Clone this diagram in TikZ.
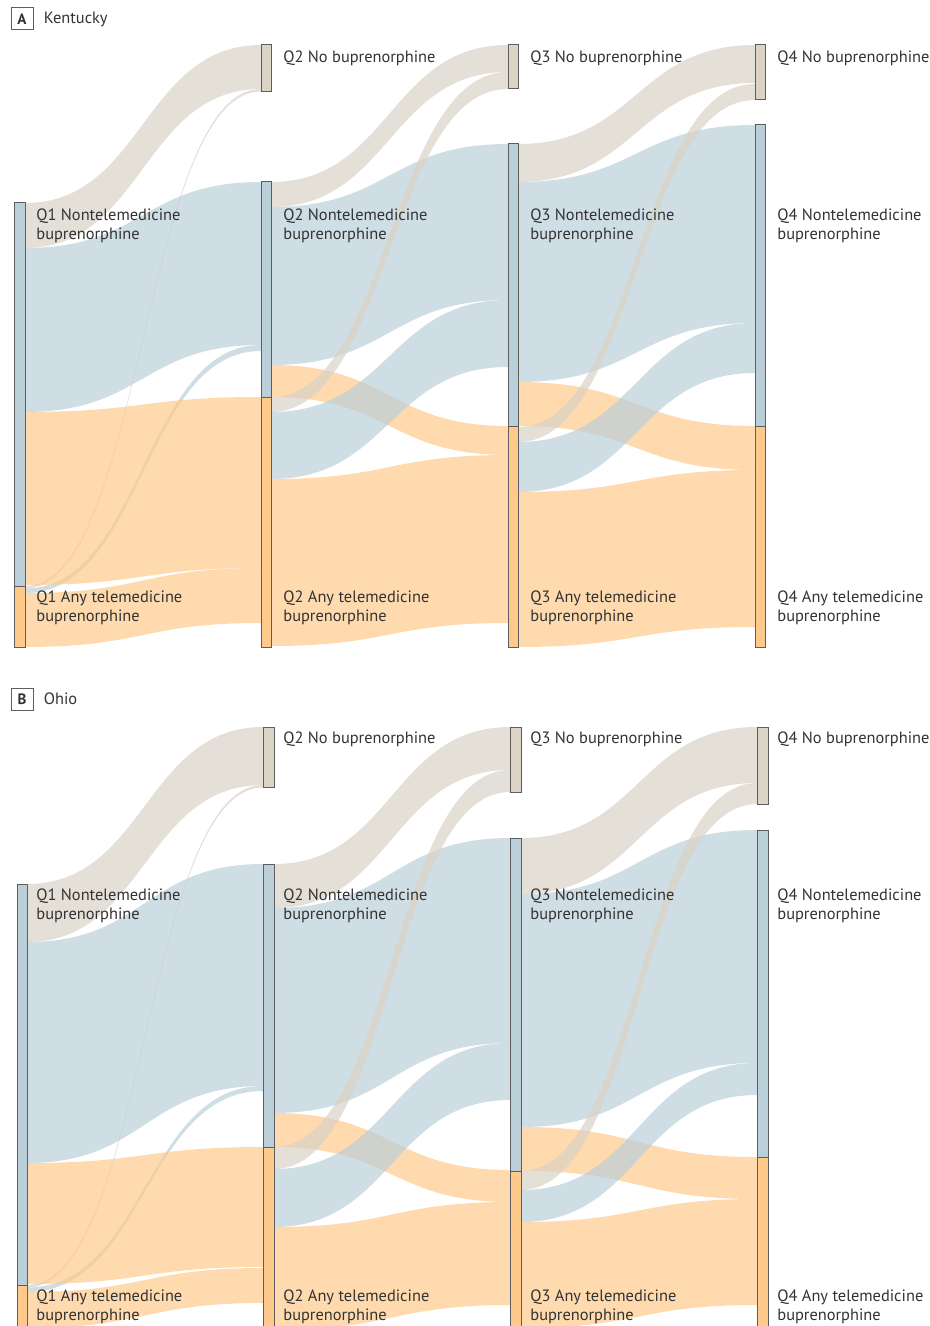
\documentclass[tikz,border=0pt]{standalone}
\usepackage{fontspec}
\setmainfont{PT Sans}
\usetikzlibrary{fit,positioning}

\definecolor{nobup}{HTML}{DAD3C6}
\definecolor{nontele}{HTML}{BBCFD9}
\definecolor{anytele}{HTML}{FDCA8B}
\definecolor{txtgray}{HTML}{333333}
\definecolor{edgegray}{HTML}{5E5E5E}

% ribbon between two bars: style, x1, top1, bottom1, x2, top2, bottom2
\newcommand{\ribbon}[7]{%
  \pgfmathsetmacro{\xmid}{(#2+#5)/2}
  \fill[#1] (#2,#3) .. controls (\xmid,#3) and (\xmid,#6) .. (#5,#6)
    -- (#5,#7) .. controls (\xmid,#7) and (\xmid,#4) .. (#2,#4) -- cycle;
}

\begin{document}
\begin{tikzpicture}[x=0.5pt, y=-0.5pt,
  qbar/.style={draw=edgegray, line width=0.5pt, inner sep=0pt, outer sep=0pt},
  flowno/.style={fill=nobup, fill opacity=0.7},
  flownt/.style={fill=nontele, fill opacity=0.7},
  flowany/.style={fill=anytele, fill opacity=0.7},
  lbl/.style={anchor=north west, align=left, inner sep=0pt, text=txtgray,
    font=\fontsize{8.2}{9.5}\selectfont},
  panel/.style={draw=edgegray, line width=0.5pt, minimum size=11pt, inner sep=0pt,
    text=txtgray, font=\fontsize{7.5}{8}\selectfont\bfseries}]
\useasboundingbox (0,0) rectangle (930,1326);

% panel A, Kentucky
\node[panel] (pana) at (22,19) {A};
\node[lbl, anchor=west, right=5pt of pana] (kentucky) {Kentucky};

\ribbon{flowno}{25}{203}{248}{261}{45}{89}
\ribbon{flowno}{25}{586}{588.5}{261}{89}{91.5}
\ribbon{flownt}{25}{588.5}{593}{261}{345}{351}
\ribbon{flownt}{25}{248}{412}{261}{182}{345}
\ribbon{flowany}{25}{412}{585}{261}{397}{568}
\ribbon{flowany}{25}{593}{647}{261}{568}{623}

\ribbon{flowno}{271}{182}{207}{508}{45}{72}
\ribbon{flownt}{271}{207}{365}{508}{144}{300}
\ribbon{flowany}{271}{365}{397}{508}{426}{455}
\ribbon{flowno}{271}{397}{412}{508}{72}{89}
\ribbon{flownt}{271}{412}{479}{508}{300}{367}
\ribbon{flowany}{271}{479}{646}{508}{455}{623}

\ribbon{flowno}{518}{144}{182}{755}{45}{83}
\ribbon{flownt}{518}{182}{382}{755}{125}{323}
\ribbon{flowany}{518}{382}{426}{755}{426}{470}
\ribbon{flowno}{518}{427}{442}{755}{84}{100}
\ribbon{flownt}{518}{442}{492}{755}{323}{373}
\ribbon{flowany}{518}{492}{647}{755}{470}{627}

\foreach \n/\c/\xa/\ya/\xb/\yb in {
    a1nt/nontele/14/203/25/586, a1any/anytele/14/586/25/647,
    a2no/nobup/261/45/271/92, a2nt/nontele/261/182/271/397, a2any/anytele/261/397/271/647,
    a3no/nobup/508/45/518/89, a3nt/nontele/508/144/518/426, a3any/anytele/508/426/518/647,
    a4no/nobup/755/45/765/100, a4nt/nontele/755/125/765/426, a4any/anytele/755/426/765/647}
  \node[qbar, fill=\c, fit={(\xa,\ya) (\xb,\yb)}] (\n) {};

\foreach \q/\x in {2/283,3/530,4/777}
  \node[lbl] (a\q nolbl) at (\x,50.5) {Q\q{} No buprenorphine};
\foreach \q/\x in {1/36,2/283,3/530,4/777}{
  \node[lbl] (a\q ntlbl) at (\x,208.5) {Q\q{} Nontelemedicine\\buprenorphine};
  \node[lbl] (a\q anylbl) at (\x,590.5) {Q\q{} Any telemedicine\\buprenorphine};
}

% panel B, Ohio
\node[panel] (panb) at (22,699) {B};
\node[lbl, anchor=west, right=5pt of panb] (ohio) {Ohio};

\ribbon{flowno}{27}{884}{942}{263}{727}{785}
\ribbon{flowno}{27}{1285}{1287.5}{263}{785}{787.5}
\ribbon{flownt}{27}{1287.5}{1292}{263}{1086}{1091}
\ribbon{flownt}{27}{942}{1163}{263}{864}{1086}
\ribbon{flowany}{27}{1163}{1284}{263}{1147}{1267}
\ribbon{flowany}{27}{1292}{1328}{263}{1268}{1303}

\ribbon{flowno}{274}{864}{908}{510}{727}{770}
\ribbon{flownt}{274}{908}{1113}{510}{838}{1043}
\ribbon{flowany}{274}{1113}{1147}{510}{1170}{1202}
\ribbon{flowno}{274}{1147}{1169}{510}{770}{792}
\ribbon{flownt}{274}{1169}{1227}{510}{1043}{1100}
\ribbon{flowany}{274}{1227}{1330}{510}{1202}{1305}

\ribbon{flowno}{521}{838}{894}{757}{727}{783}
\ribbon{flownt}{521}{894}{1127}{757}{830}{1063}
\ribbon{flowany}{521}{1127}{1171}{757}{1157}{1199}
\ribbon{flowno}{521}{1171}{1190}{757}{783}{804}
\ribbon{flownt}{521}{1190}{1222}{757}{1063}{1095}
\ribbon{flowany}{521}{1222}{1328}{757}{1199}{1305}

\foreach \n/\c/\xa/\ya/\xb/\yb in {
    b1nt/nontele/17/884/27/1285, b1any/anytele/17/1285/27/1340,
    b2no/nobup/263/727/274/787, b2nt/nontele/263/864/274/1147, b2any/anytele/263/1147/274/1340,
    b3no/nobup/510/727/521/792, b3nt/nontele/510/838/521/1171, b3any/anytele/510/1171/521/1340,
    b4no/nobup/757/727/768/804, b4nt/nontele/757/830/768/1157, b4any/anytele/757/1157/768/1340}
  \node[qbar, fill=\c, fit={(\xa,\ya) (\xb,\yb)}] (\n) {};

\foreach \q/\x in {2/283,3/530,4/777}
  \node[lbl] (b\q nolbl) at (\x,731.5) {Q\q{} No buprenorphine};
\foreach \q/\x in {1/36,2/283,3/530,4/777}{
  \node[lbl] (b\q ntlbl) at (\x,888.5) {Q\q{} Nontelemedicine\\buprenorphine};
  \node[lbl] (b\q anylbl) at (\x,1289.5) {Q\q{} Any telemedicine\\buprenorphine};
}
\end{tikzpicture}
\end{document}
